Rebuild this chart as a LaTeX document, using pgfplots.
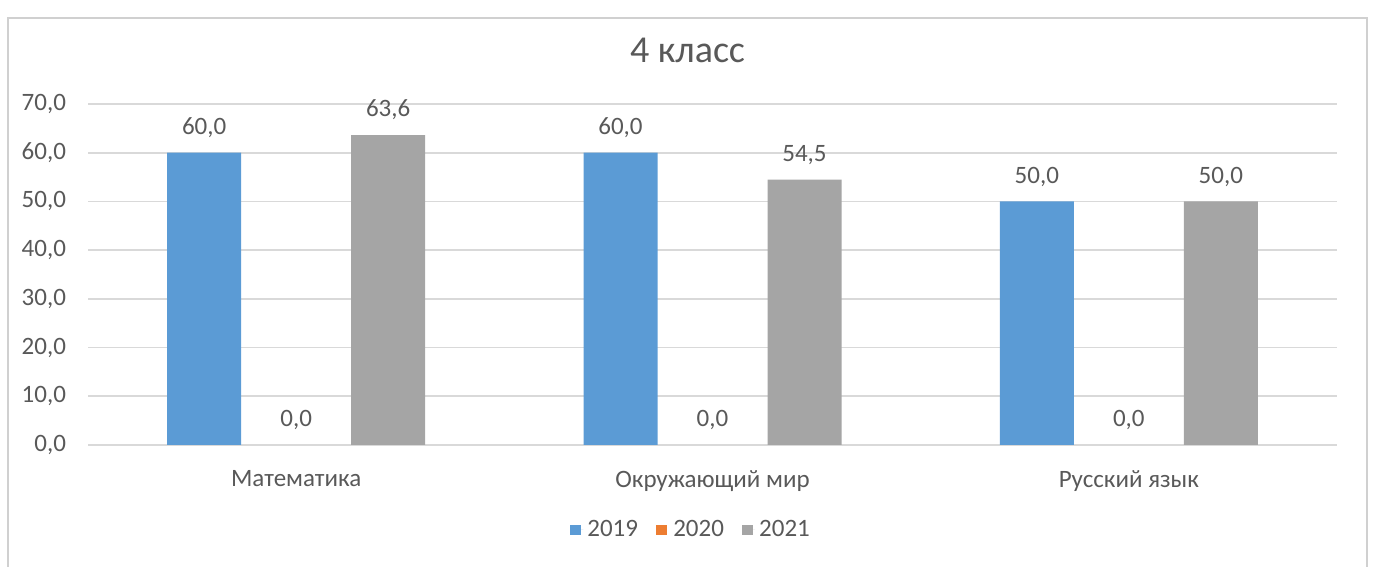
\documentclass[border=0pt]{standalone}
\usepackage{pgfplots}
\pgfplotsset{compat=1.18}
\usepackage{fontspec}
\setmainfont{Carlito}
\definecolor{c19}{HTML}{5B9BD5}
\definecolor{c20}{HTML}{ED7D31}
\definecolor{c21}{HTML}{A5A5A5}
\definecolor{txt}{HTML}{595959}
\definecolor{grd}{HTML}{D9D9D9}
\definecolor{frm}{HTML}{D0D0D0}
\begin{document}
\begin{tikzpicture}
\useasboundingbox (0pt,0pt) rectangle (687.5pt,283.5pt);
\draw[frm, line width=0.9pt] (4pt,-5pt) rectangle (683.5pt,274.5pt);
\begin{axis}[
  at={(44pt,61pt)}, anchor=south west,
  scale only axis, width=624.5pt, height=170.5pt,
  ybar=9pt, bar width=37pt,
  xmin=-0.5, xmax=2.5, ymin=0, ymax=70,
  xtick=data,
  xticklabels={Математика, Окружающий мир, Русский язык},
  ytick={0,10,...,70},
  ymajorgrids, grid style={grd, line width=0.8pt},
  axis line style={draw=none},
  major tick style={draw=none},
  tick label style={font=\fontsize{12.5}{14}\selectfont, text=txt},
  yticklabel style={/pgf/number format/fixed, /pgf/number format/fixed zerofill, /pgf/number format/precision=1, /pgf/number format/use comma, /pgf/number format/assume math mode=true, xshift=-7.5pt},
  xticklabel style={yshift=-5pt},
  nodes near coords,
  every node near coord/.append style={font=\fontsize{12.5}{14}\selectfont, text=txt, yshift=4pt, text opacity=1,
     /pgf/number format/fixed, /pgf/number format/fixed zerofill, /pgf/number format/precision=1, /pgf/number format/use comma, /pgf/number format/assume math mode=true},
  title={4 класс},
  title style={at={(0.5,1)}, anchor=center, yshift=21pt, xshift=-12.5pt, font=\fontsize{19}{22}\selectfont, text=txt},
  legend style={at={(0.4836,-0.249)}, anchor=center, legend columns=3, draw=none, fill=none,
     font=\fontsize{12.5}{14}\selectfont, text=txt,
     /tikz/every even column/.append style={column sep=7pt}},
]
\addplot[fill=c19, draw=none, legend image code/.code={\fill[c19, fill opacity=1] (0pt,-2.7pt) rectangle (5.4pt,2.7pt); \path (0pt,0pt) -- (6.6pt,0pt);}] coordinates {(0,60.0) (1,60.0) (2,50.0)};
\addplot[fill=c20, draw=none, fill opacity=0, legend image code/.code={\fill[c20, fill opacity=1] (0pt,-2.7pt) rectangle (5.4pt,2.7pt); \path (0pt,0pt) -- (6.6pt,0pt);}] coordinates {(0,0.0) (1,0.0) (2,0.0)};
\addplot[fill=c21, draw=none, legend image code/.code={\fill[c21, fill opacity=1] (0pt,-2.7pt) rectangle (5.4pt,2.7pt); \path (0pt,0pt) -- (6.6pt,0pt);}] coordinates {(0,63.6) (1,54.5) (2,50.0)};
\legend{2019,2020,2021}
\end{axis}
\end{tikzpicture}
\end{document}
